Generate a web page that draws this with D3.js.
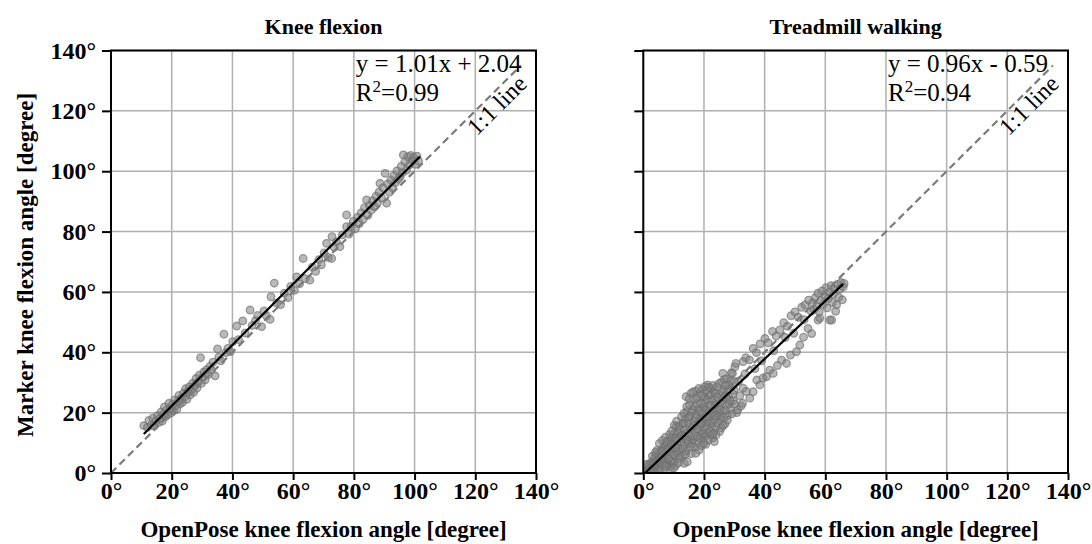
<!DOCTYPE html>
<html><head><meta charset="utf-8">
<script src="https://cdn.jsdelivr.net/npm/d3@7"></script>
<style>body{margin:0;background:#fff}svg{display:block}</style>
</head><body>
<svg id="c" width="1092" height="544"></svg>
<script>
// ---------- data ----------
const panelTitles = ["Knee flexion", "Treadmill walking"];
const tickValues = [0, 20, 40, 60, 80, 100, 120, 140];
const xAxisTitle = "OpenPose knee flexion angle [degree]";
const yAxisTitle = "Marker knee flexion angle [degree]";
const fitText = ["y = 1.01x + 2.04", "y = 0.96x - 0.59"];
const r2Values = ["0.99", "0.94"];
const fitSlope = [1.01, 0.96];
const fitIntercept = [2.04, -0.59];
const fitRange = [[10.8, 101.8], [0.6, 65.9]];
const identityRange = [0, 135];

// Knee flexion: [OpenPose, Marker]
const kneePoints = [
[10.8,15.7],[12.0,15.1],[12.5,17.4],[13.4,15.9],[13.8,18.2],[14.2,15.6],[14.9,17.3],[15.3,19.0],[15.8,16.8],[16.1,18.1],
[16.5,20.2],[16.9,17.2],[17.3,19.4],[17.6,21.9],[18.0,18.7],[18.4,20.9],[18.8,19.4],[19.1,23.1],[19.5,21.5],[19.9,20.0],
[20.3,22.7],[20.6,20.6],[21.0,24.2],[21.3,22.3],[21.7,21.1],[22.1,24.0],[22.4,25.7],[22.8,22.9],[23.2,24.8],[23.5,23.4],
[23.9,26.5],[24.3,25.2],[24.6,27.9],[25.0,24.4],[25.4,27.0],[25.8,28.5],[26.1,25.9],[26.5,27.4],[26.9,29.7],[27.2,26.7],
[27.6,29.0],[28.0,31.3],[28.3,28.1],[28.7,30.2],[29.1,32.4],[29.5,38.2],[29.8,29.7],[30.2,31.8],[30.6,33.5],[31.0,30.9],
[31.5,34.2],[32.0,32.6],[32.6,35.3],[33.1,34.1],[33.6,36.7],[34.3,32.2],[35.1,41.1],[35.5,38.4],[36.2,37.2],[37.2,46.0],
[37.8,39.9],[38.5,41.3],[39.3,40.2],[40.1,43.5],[41.4,48.7],[42.0,44.2],[43.4,50.4],[44.2,46.4],[45.8,54.0],[46.5,48.9],
[47.6,50.5],[48.3,52.2],[49.6,48.5],[50.4,53.7],[51.2,52.1],[52.4,50.9],[52.7,58.4],[53.8,62.9],[54.6,56.3],[55.9,55.8],
[57.1,59.6],[58.3,58.1],[59.2,61.8],[60.4,60.5],[61.2,65.0],[62.1,62.7],[63.3,71.1],[64.0,64.4],[65.5,63.9],[66.3,68.2],
[67.4,66.8],[68.5,70.7],[69.3,69.0],[70.2,72.9],[71.0,76.1],[71.6,71.4],[72.7,71.1],[72.8,78.3],[73.5,74.8],[74.3,76.6],
[75.4,75.0],[76.2,78.9],[77.6,81.6],[77.6,85.5],[78.4,79.2],[79.1,81.7],[79.8,83.4],[80.5,80.9],[81.2,84.7],[81.8,82.6],
[82.4,86.2],[83.0,84.0],[83.5,87.9],[84.2,90.5],[84.6,85.4],[85.1,88.6],[85.7,87.1],[86.2,90.2],[86.8,88.3],[87.3,91.7],
[87.8,89.6],[88.3,93.1],[88.6,96.0],[89.1,91.2],[89.6,94.5],[90.3,99.3],[90.8,89.4],[91.2,95.8],[91.7,93.0],[92.2,97.1],
[92.7,94.6],[93.2,98.5],[93.7,96.2],[94.2,100.1],[94.7,97.4],[95.2,98.2],[95.6,101.6],[96.0,99.5],[96.3,105.4],[96.8,103.2],
[97.4,100.4],[97.8,104.8],[98.3,102.1],[98.8,105.2],[99.3,103.6],[99.7,104.6],[100.2,102.3],[100.8,105.0],[101.3,103.4]
];

// Treadmill walking: [OpenPose, Marker]
const walkPoints = [
[0.5,0.8],[0.9,0.3],[1.2,1.9],[1.5,0.6],[1.8,2.7],[2.1,1.2],[2.4,3.4],[2.6,0.9],[2.9,2.2],[3.2,4.1],
[3.4,1.6],[3.7,3.0],[3.9,5.3],[4.2,2.4],[4.4,4.0],[4.7,6.2],[4.9,1.8],[5.2,3.6],[5.3,9.8],[5.5,5.1],
[5.7,7.2],[6.0,2.9],[6.2,4.4],[6.4,8.1],[6.6,5.4],[6.8,1.4],[7.0,6.6],[7.2,9.3],[7.4,3.7],[7.6,7.8],
[7.9,5.0],[8.1,10.6],[8.3,2.6],[8.6,2.1],[8.8,6.3],[8.9,8.9],
[9.1,11.7],[9.3,4.2],[9.5,7.4],[9.7,9.8],[9.9,3.2],[10.1,12.8],[10.3,5.7],[10.5,8.6],[10.8,15.3],[10.9,10.9],
[11.1,6.8],[11.3,13.6],[11.5,9.4],[11.7,4.8],[11.9,11.8],[12.1,14.7],[12.3,7.9],[12.5,10.3],[12.7,16.2],[12.9,12.6],
[13.1,5.9],[13.3,9.1],[13.5,3.2],[13.6,14.1],[13.8,17.9],[14.0,11.2],[14.1,25.3],[14.2,7.3],[14.4,20.4],[14.5,3.7],
[14.6,13.4],[14.8,16.7],[15.0,9.8],[15.2,22.6],[15.3,12.1],[15.5,18.8],[15.7,26.4],[15.8,6.4],[16.0,14.9],[16.2,20.9],
[16.3,11.0],[16.5,24.3],[16.7,17.2],[16.9,8.6],[17.0,22.1],[17.2,13.7],[17.4,27.1],[17.5,19.5],[17.7,15.8],[17.9,24.8],
[18.0,10.4],[18.2,21.3],[18.4,7.6],[18.5,17.9],[18.7,26.2],[18.9,13.2],[19.0,23.2],[19.2,19.9],[19.4,16.1],[19.5,27.8],
[19.7,11.9],[19.9,21.7],[20.0,25.0],[20.1,14.6],[20.2,18.4],
[20.4,23.4],[20.6,9.5],[20.8,27.3],[21.0,16.9],[21.2,29.2],[21.3,20.6],[21.5,13.1],[21.7,25.7],[21.9,18.7],[22.1,22.5],
[22.3,28.1],[22.5,15.4],[22.7,24.3],[22.9,11.6],[23.1,20.2],[23.3,27.0],[23.4,10.4],[23.6,17.6],[23.9,15.3],[24.1,23.8],
[24.3,28.6],[24.5,19.3],[24.8,21.6],[25.0,26.2],[25.2,13.8],[25.5,17.8],[25.8,30.1],[26.0,24.0],[26.2,33.0],[26.4,20.4],
[26.7,27.5],[26.9,16.2],[27.2,22.7],[27.5,31.2],[27.8,19.0],[28.1,25.4],[28.4,29.0],[28.7,21.2],[29.0,33.2],[29.4,33.0],
[29.7,23.9],[30.0,27.4],[30.2,35.2],[30.5,36.3],[30.8,20.0],[31.1,20.9],[31.4,30.4],[31.8,25.6],[32.2,22.2],[32.7,23.1],
[32.9,36.9],[32.9,28.1],
[1.0,2.8],[2.2,0.4],[3.0,5.6],[3.6,0.5],[4.5,7.5],[5.0,0.6],[5.9,6.0],[6.3,10.8],[6.9,3.8],[7.3,11.9],
[7.8,2.8],[8.2,8.2],[8.7,12.8],[9.0,1.2],[9.4,13.9],[9.8,6.0],[10.2,15.8],[10.6,2.4],[11.0,17.2],[11.4,8.2],
[11.8,15.6],[12.2,5.2],[12.6,18.6],[13.0,8.0],[13.4,19.8],[13.7,12.2],[14.3,22.0],[14.7,10.6],[15.1,24.6],[15.4,15.2],
[15.9,20.0],[16.1,9.6],[16.4,26.9],[16.8,12.4],[17.1,18.3],[17.3,6.5],[17.6,23.0],[18.1,14.6],[18.3,28.0],[18.6,11.5],
[18.8,20.5],[19.1,9.0],[19.3,25.6],[19.6,17.4],[19.8,13.0],[20.3,28.6],[20.5,12.2],[20.7,21.0],[20.9,15.6],[21.1,24.4],
[21.4,10.9],[21.6,28.4],[21.8,17.0],[22.0,13.9],[22.2,26.0],[22.4,19.8],[22.8,16.6],[23.0,29.0],[23.2,13.2],[23.5,22.4],
[23.8,26.3],[24.0,12.6],[24.2,20.6],[24.6,16.5],[24.9,29.6],[25.1,18.9],[25.4,23.1],[25.7,15.0],[26.1,27.0],[26.5,18.4],
[26.8,31.0],[27.0,20.8],[27.4,24.8],[27.7,17.5],[28.0,27.8],[28.3,22.8],[28.8,30.6],[29.2,19.6],[29.6,26.2],[30.1,22.9],
[3.3,2.9],[4.0,6.8],[5.6,1.0],[6.1,7.1],[7.1,2.3],[7.7,10.1],[8.4,4.7],[9.2,9.6],[10.0,1.6],[10.7,11.7],
[11.6,3.4],[12.4,12.3],[13.2,16.5],[13.9,6.2],[14.9,18.3],[15.6,8.7],[16.6,15.6],[17.8,12.1],[18.9,16.4],[19.9,9.8],
[20.8,18.6],[21.9,22.4],[22.6,12.8],[23.7,19.0],[24.4,25.1],[25.3,21.0],[26.3,15.7],[27.1,29.0],[28.6,24.0],[29.9,30.3],
[33.8,38.2],[35.0,37.5],[36.2,41.3],[37.3,39.9],[38.5,42.8],[40.1,44.6],[41.2,43.1],[42.6,46.9],[43.8,45.4],[45.0,47.4],
[46.3,49.8],[47.5,48.6],[48.7,52.1],[50.0,53.4],[51.1,51.6],[52.2,54.9],[53.3,55.7],[54.5,57.3],
[34.0,27.0],[35.1,24.8],[36.2,26.9],[37.4,30.8],[38.4,29.2],[39.5,31.5],[40.6,31.9],[41.7,34.1],[42.8,33.0],[44.2,35.6],
[45.6,37.4],[47.2,36.3],[48.5,39.1],[50.5,40.2],[51.6,42.4],[52.8,45.0],[54.3,47.9],[55.5,46.2],[57.6,50.7],[58.2,51.3],
[33.5,32.8],[36.8,34.6],[39.0,37.2],[43.0,40.5],[46.8,44.9],[49.6,46.3],[53.0,50.8],
[55.3,53.6],[55.8,56.4],[56.3,54.2],[56.7,58.1],[57.2,55.1],[57.6,59.6],[58.0,53.4],[58.5,57.2],[58.9,60.3],[59.3,55.9],
[59.8,58.6],[60.2,61.4],[60.6,54.7],[61.0,57.8],[61.5,50.7],[61.4,60.0],[61.9,62.1],[62.3,56.5],[62.7,59.3],[63.1,61.0],
[63.4,53.6],[63.7,55.7],[64.0,62.5],[64.4,58.2],[64.8,60.9],[65.2,63.1],[65.6,57.4],[65.9,61.7],[66.2,62.8],[62.1,50.7]
];
const panelPoints = [kneePoints, walkPoints];

// ---------- drawing ----------
const svg = d3.select("#c");
const FONT = "'Liberation Serif','Times New Roman',serif";
const plotTop = 50.5, plotBottom = 473;
const panelX = [[111, 536], [643.3, 1068]];
const y = d3.scaleLinear().domain([0, 140]).range([plotBottom, plotTop]);

panelX.forEach((px, i) => {
  const x = d3.scaleLinear().domain([0, 140]).range(px);
  const g = svg.append("g");

  // grid
  g.append("g").selectAll("line").data(tickValues).join("line")
    .attr("x1", d => x(d)).attr("x2", d => x(d)).attr("y1", plotTop).attr("y2", plotBottom)
    .attr("stroke", "#b0b0b0").attr("stroke-width", 1.5);
  g.append("g").selectAll("line").data(tickValues).join("line")
    .attr("y1", d => y(d)).attr("y2", d => y(d)).attr("x1", px[0]).attr("x2", px[1])
    .attr("stroke", "#b0b0b0").attr("stroke-width", 1.5);

  // points
  const clipId = "clip" + i;
  svg.append("clipPath").attr("id", clipId).append("rect")
    .attr("x", px[0]).attr("y", plotTop).attr("width", px[1] - px[0]).attr("height", plotBottom - plotTop);
  g.append("g").attr("clip-path", `url(#${clipId})`).selectAll("circle").data(panelPoints[i]).join("circle")
    .attr("cx", d => x(d[0])).attr("cy", d => y(d[1])).attr("r", 3.8)
    .attr("fill", "rgba(128,128,128,0.55)").attr("stroke", "rgba(110,110,110,0.65)").attr("stroke-width", 1.3);

  // 1:1 line
  const line = d3.line().x(d => x(d[0])).y(d => y(d[1]));
  g.append("path").attr("d", line(identityRange.map(v => [v, v])))
    .attr("fill", "none").attr("stroke", "#7a7a7a").attr("stroke-width", 2.2).attr("stroke-dasharray", "7.5,4.5");

  // regression line
  g.append("path").attr("d", line(fitRange[i].map(v => [v, fitSlope[i] * v + fitIntercept[i]])))
    .attr("fill", "none").attr("stroke", "#000").attr("stroke-width", 2.2);

  // frame
  g.append("rect").attr("x", px[0]).attr("y", plotTop).attr("width", px[1] - px[0]).attr("height", plotBottom - plotTop)
    .attr("fill", "none").attr("stroke", "#000").attr("stroke-width", 2);

  // axes
  const xa = g.append("g").attr("transform", `translate(0,${plotBottom})`)
    .call(d3.axisBottom(x).tickValues(tickValues).tickFormat(d => d + "°").tickSize(7).tickPadding(2));
  const ya = g.append("g").attr("transform", `translate(${px[0]},0)`)
    .call(d3.axisLeft(y).tickValues(tickValues).tickFormat(d => i === 0 ? d + "°" : "").tickSize(9).tickPadding(6));
  [xa, ya].forEach(a => {
    a.select(".domain").remove();
    a.selectAll(".tick line").attr("stroke", "#000").attr("stroke-width", 2);
    a.selectAll("text").attr("font-family", FONT).attr("font-weight", "bold").attr("font-size", 24).attr("fill", "#000");
  });

  // title
  g.append("text").attr("x", (px[0] + px[1]) / 2).attr("y", 34).attr("text-anchor", "middle")
    .attr("font-family", FONT).attr("font-weight", "bold").attr("font-size", 22).text(panelTitles[i]);

  // x axis title
  g.append("text").attr("x", (px[0] + px[1]) / 2).attr("y", 537).attr("text-anchor", "middle")
    .attr("font-family", FONT).attr("font-weight", "bold").attr("font-size", 23).text(xAxisTitle);

  // fit annotation
  g.append("text").attr("x", x(80) + 2).attr("y", 72)
    .attr("font-family", FONT).attr("font-size", 25).text(fitText[i]);
  const r2 = g.append("text").attr("x", x(80) + 2).attr("y", 101)
    .attr("font-family", FONT).attr("font-size", 25);
  r2.append("tspan").text("R");
  r2.append("tspan").attr("dy", -9).attr("font-size", 17).text("2");
  r2.append("tspan").attr("dy", 9).text("=" + r2Values[i]);

  // 1:1 label
  g.append("text").attr("transform", `translate(${x(124.5)},${y(124.5)}) rotate(-45)`)
    .attr("text-anchor", "middle").attr("dy", "0.8em")
    .attr("font-family", FONT).attr("font-size", 24).text("1:1 line");
});

// y axis title
svg.append("text").attr("transform", `translate(33,265) rotate(-90)`)
  .attr("text-anchor", "middle").attr("font-family", FONT).attr("font-weight", "bold").attr("font-size", 23)
  .text(yAxisTitle);
</script>
</body></html>
